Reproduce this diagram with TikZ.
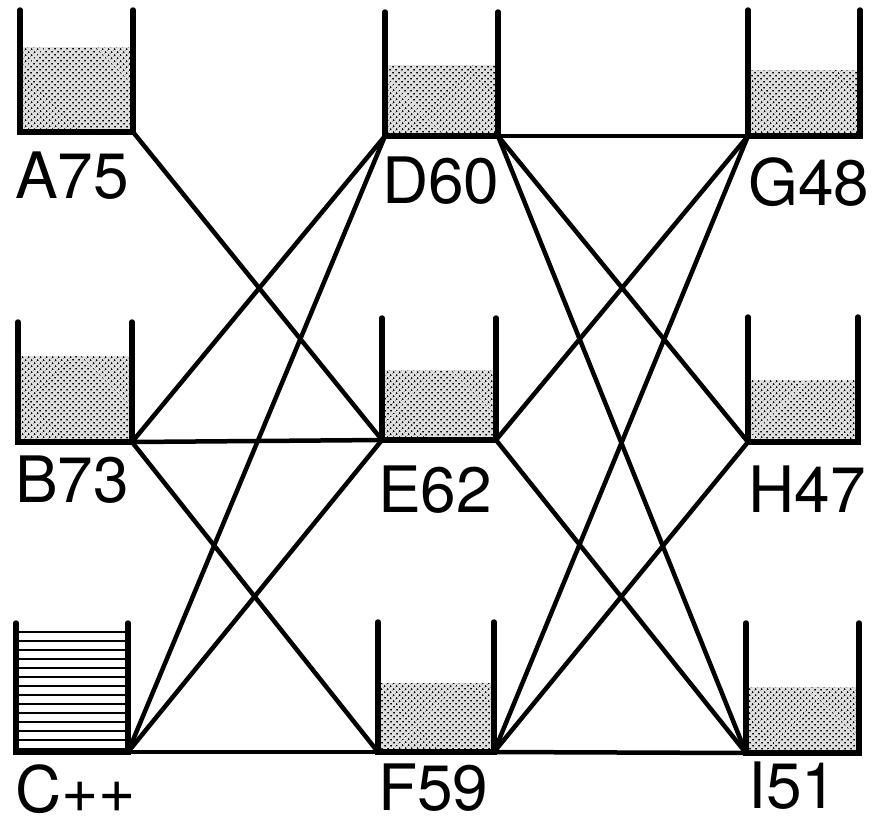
\documentclass[tikz,border=0pt]{standalone}
\usepackage{fontspec}
\setmainfont{TeX Gyre Heros}
\usetikzlibrary{patterns.meta}
\tikzset{
  wall/.style={line width=5.5pt, line cap=round, line join=miter},
  link/.style={line width=4.5pt, line cap=round},
  dotfill/.style={fill=black!12, pattern={Dots[distance=4pt, radius=1.1pt, angle=45]}, pattern color=black},
  stripe/.style={line width=1.5pt},
  tag/.style={inner sep=0pt, anchor=base west, font=\fontsize{64}{64}\selectfont}
}
% \tankbox{name}{x left}{x right}{y top}{y bottom}{fill top}
\newcommand\tankbox[6]{%
  \fill[black!12] (#2+2,#6) rectangle (#3-2,#5-2);
  \fill[dotfill] (#2+2,#6) rectangle (#3-2,#5-2);
  \draw[wall] (#2,#4) -- (#2,#5) -- (#3,#5) -- (#3,#4);
  \coordinate (#1l) at (#2,#5);
  \coordinate (#1r) at (#3,#5);
}
\begin{document}
\begin{tikzpicture}[x=1pt,y=-1pt]
\useasboundingbox (0,0) rectangle (875,825);

% dotted tanks
\tankbox{A}{20}{133}{10}{132}{47}
\tankbox{B}{18}{132}{322}{442}{356}
\tankbox{D}{385}{498}{12}{136}{65}
\tankbox{E}{382}{496}{318}{440}{370}
\tankbox{F}{378}{494}{622}{752}{683}
\tankbox{G}{748}{860}{10}{136}{70}
\tankbox{H}{748}{858}{317}{442}{380}
\tankbox{I}{746}{859}{623}{753}{687}

% striped tank C
\foreach \yy in {632,641,...,749} {
  \draw[stripe] (18,\yy) -- (126,\yy);
}
\draw[wall] (16,623) -- (16,752) -- (128,752) -- (128,623);
\coordinate (Cr) at (128,752);

% labels
\node[tag] (lA) at (15,198) {A75};
\node[tag] (lB) at (15,502) {B73};
\node[tag] (lC) at (15,812) {C++};
\node[tag] (lD) at (382,203) {D60};
\node[tag] (lE) at (378,512) {E62};
\node[tag] (lF) at (378,810) {F59};
\node[tag] (lG) at (748,205) {G48};
\node[tag] (lH) at (748,512) {H47};
\node[tag] (lI) at (748,808) {I51};

% connectors
\draw[link] (Ar) -- (El);
\draw[link] (Dl) -- (Br);
\draw[link] (Dl) -- (Cr);
\draw[link] (Dr) -- (Gl);
\draw[link] (Dr) -- (Hl);
\draw[link] (Dr) -- (Il);
\draw[link] (Gl) -- (Er);
\draw[link] (Gl) -- (Fr);
\draw[link] (Br) -- (El);
\draw[link] (Br) -- (Fl);
\draw[link] (El) -- (Cr);
\draw[link] (Er) -- (Il);
\draw[link] (Hl) -- (Fr);
\draw[link] (Cr) -- (Fl);
\draw[link] (Fr) -- (Il);
\end{tikzpicture}
\end{document}
